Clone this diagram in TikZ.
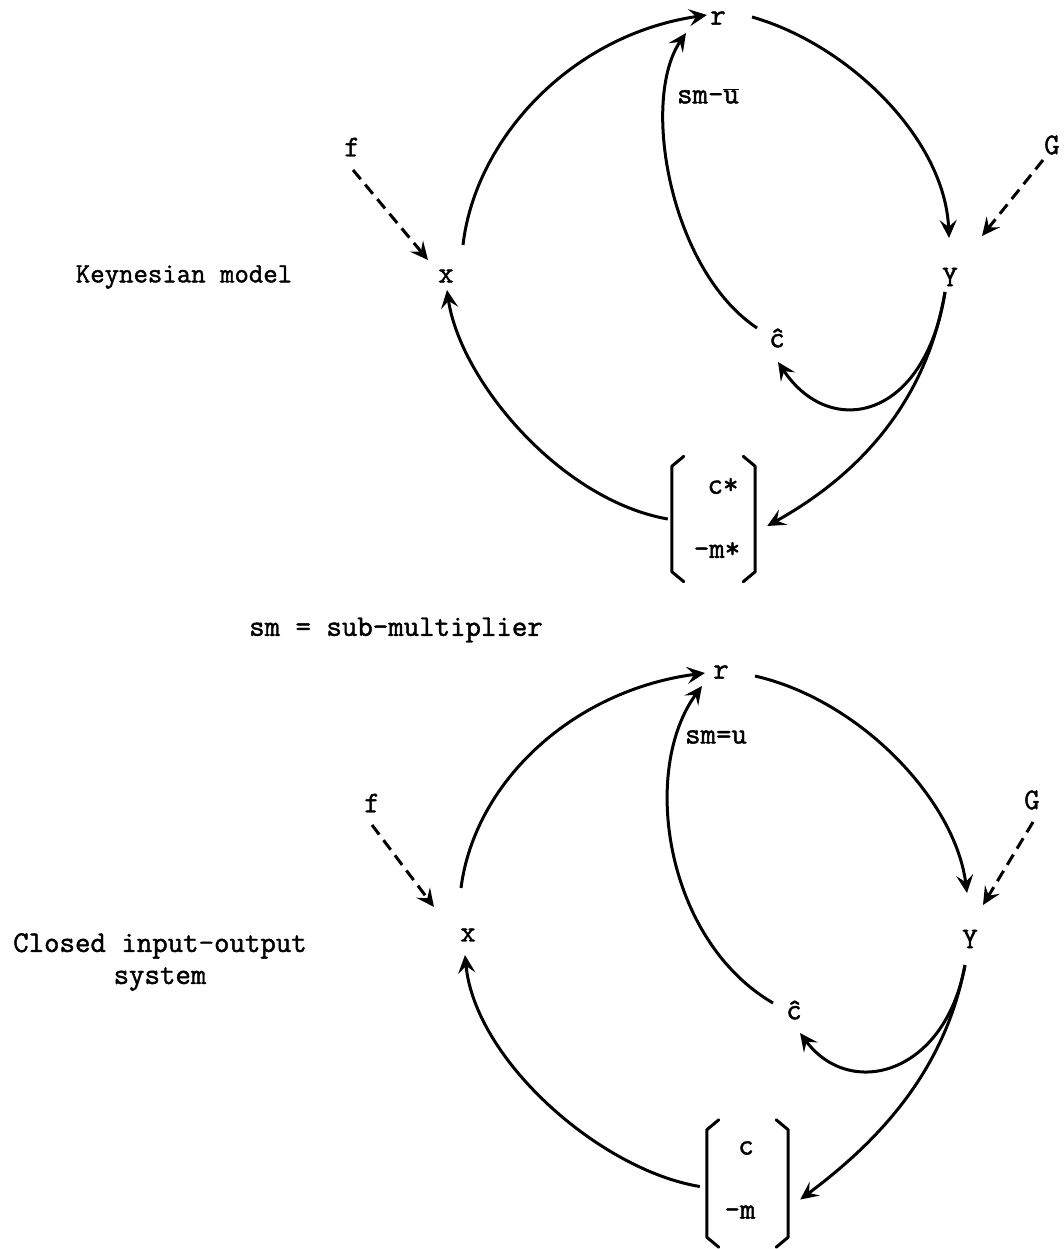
\documentclass[tikz,border=0pt]{standalone}
\usepackage{fontspec}
\setmainfont{Latin Modern Mono}[FakeBold=1.5]
\usetikzlibrary{arrows.meta}
\begin{document}
\begin{tikzpicture}[x=1pt,y=-1pt,
  lbl/.style={font=\fontsize{30}{34}\selectfont, inner sep=0pt},
  txt/.style={font=\fontsize{30}{32}\selectfont, inner sep=0pt, align=center},
  conn/.style={line width=3pt, -{Stealth[length=18pt,width=17pt,inset=7pt]}},
  dsh/.style={conn, dash pattern=on 12pt off 7pt},
  brk/.style={line width=3pt, line join=round, line cap=round},
  box/.style={draw=none, minimum width=83pt, minimum height=125pt, inner sep=0pt}]
\useasboundingbox (0,0) rectangle (1064,1249);

% ===== Top: Keynesian model =====
\node[lbl] (r) at (718,18) {r};
\node[lbl] (x) at (446,276) {x};
\node[lbl] (Y) at (950,277) {Y};
\node[lbl] (f) at (352,147) {f};
\node[lbl] (G) at (1052,145) {G};
\node[lbl] (ch) at (777,338) {ĉ};
\node[lbl] (smu) at (708,96) {sm-\ensuremath{\overline{\mbox{u}}}};
\node[box] (bm) at (713.5,519) {};
\node[lbl] (cs) at (723,486) {c*};
\node[lbl] (ms) at (717,550) {-m*};
\node[txt, font=\fontsize{28}{30}\selectfont] (kt) at (184,277) {Keynesian model};
\node[txt] (smt) at (396,630) {sm = sub-multiplier};

\draw[brk] ([xshift=12pt]bm.north west) -- ([yshift=-10pt]bm.north west) -- ([yshift=10pt]bm.south west) -- ([xshift=12pt]bm.south west);
\draw[brk] ([xshift=-12pt]bm.north east) -- ([yshift=-10pt]bm.north east) -- ([yshift=10pt]bm.south east) -- ([xshift=-12pt]bm.south east);

\draw[conn] ([shift={(17,-31)}]x.center) .. controls (475,140) and (570,35) .. ([shift={(-11,-3)}]r.center);
\draw[conn] ([shift={(34,-1)}]r.center) .. controls (850,45) and (945,140) .. ([shift={(-1,-39)}]Y.center);
\draw[dsh] ([shift={(-9,15)}]G.center) -- ([shift={(32,-41)}]Y.center);
\draw[dsh] ([shift={(1,23)}]f.center) -- ([shift={(-18,-16)}]x.center);
\draw[conn] ([shift={(-20,-10)}]ch.center) .. controls (670,270) and (640,100) .. ([shift={(-32,15)}]r.center);
\draw[conn] ([shift={(-5,15)}]Y.center) .. controls (925,420) and (830,440) .. ([shift={(1,24)}]ch.center);
\draw[conn] ([shift={(-5,15)}]Y.center) .. controls (925,410) and (850,480) .. ([xshift=12pt,yshift=-7pt]bm.east);
\draw[conn] ([xshift=-4pt]bm.west) .. controls (560,500) and (460,380) .. ([shift={(1,14)}]x.center);

% ===== Bottom: Closed input-output system =====
\node[lbl] (r2) at (721,672) {r};
\node[lbl] (x2) at (468,935) {x};
\node[lbl] (Y2) at (970,939) {Y};
\node[lbl] (f2) at (372,803) {f};
\node[lbl] (G2) at (1032,800) {G};
\node[lbl] (ch2) at (794,1010) {ĉ};
\node[lbl] (sme) at (716,737) {sm=u};
\node[box, minimum width=81pt, minimum height=127pt] (bm2) at (747.5,1183.5) {};
\node[lbl] (c2) at (746,1148) {c};
\node[lbl] (m2) at (740,1212) {-m};
\node[txt] (ct) at (160,962) {Closed input-output\\system};

\draw[brk] ([xshift=12pt]bm2.north west) -- ([yshift=-10pt]bm2.north west) -- ([yshift=10pt]bm2.south west) -- ([xshift=12pt]bm2.south west);
\draw[brk] ([xshift=-12pt]bm2.north east) -- ([yshift=-10pt]bm2.north east) -- ([yshift=10pt]bm2.south east) -- ([xshift=-12pt]bm2.south east);

\draw[conn] ([shift={(-7,-47)}]x2.center) .. controls (475,780) and (575,690) .. ([shift={(-16,1)}]r2.center);
\draw[conn] ([shift={(34,4)}]r2.center) .. controls (860,700) and (955,800) .. ([shift={(-3,-46)}]Y2.center);
\draw[dsh] ([shift={(1,22)}]G2.center) -- ([shift={(13,-34)}]Y2.center);
\draw[dsh] ([shift={(0,22)}]f2.center) -- ([shift={(-34,-28)}]x2.center);
\draw[conn] ([shift={(-21,-7)}]ch2.center) .. controls (665,940) and (640,770) .. ([shift={(-19,14)}]r2.center);
\draw[conn] ([shift={(-5,26)}]Y2.center) .. controls (945,1075) and (850,1100) .. ([shift={(6,23)}]ch2.center);
\draw[conn] ([shift={(-5,26)}]Y2.center) .. controls (945,1070) and (880,1140) .. ([xshift=12pt,yshift=-16pt]bm2.east);
\draw[conn] ([xshift=-7pt,yshift=-3pt]bm2.west) .. controls (600,1170) and (475,1060) .. ([shift={(-3,20)}]x2.center);
\end{tikzpicture}
\end{document}
